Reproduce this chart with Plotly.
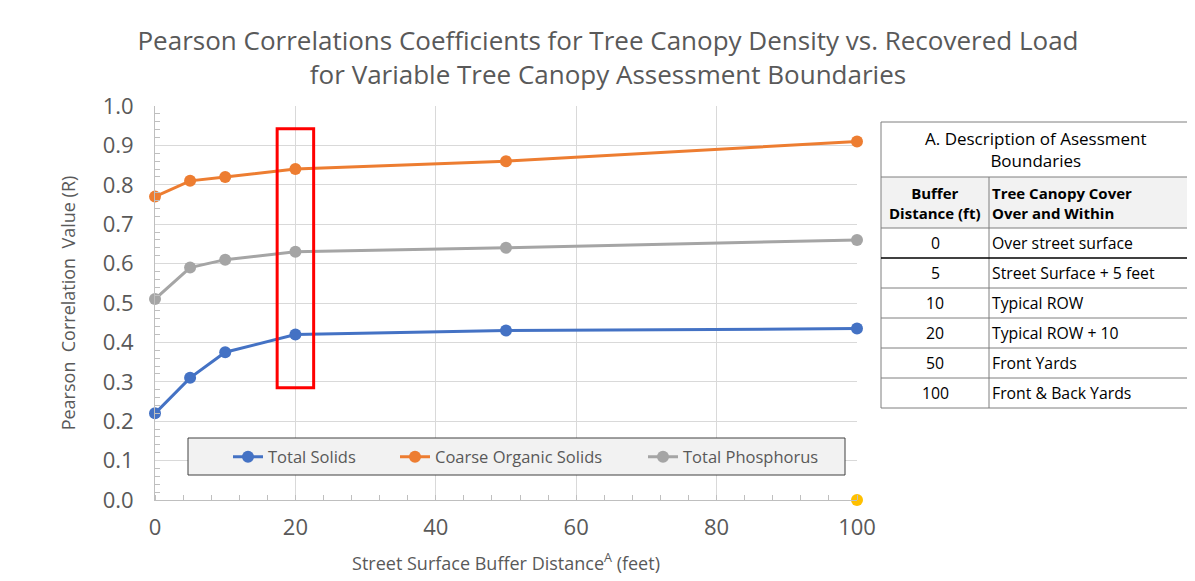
import plotly.graph_objects as go

distance_ft = [0, 5, 10, 20, 50, 100]
total_solids = [0.22, 0.31, 0.375, 0.42, 0.43, 0.435]
coarse_organic = [0.77, 0.81, 0.82, 0.84, 0.86, 0.91]
total_phosphorus = [0.51, 0.59, 0.61, 0.63, 0.64, 0.66]
extra_x = [100]
extra_y = [0.0]

highlight_x = [17.4, 22.6]
highlight_y = [0.285, 0.942]

table_title = "A. Description of Asessment<br>Boundaries"
table_head = ["<b>Buffer<br>Distance (ft)</b>", "<b>Tree Canopy Cover<br>Over and Within</b>"]
table_dist = ["0", "5", "10", "20", "50", "100"]
table_desc = ["Over street surface", "Street Surface + 5 feet", "Typical ROW",
              "Typical ROW + 10", "Front Yards", "Front & Back Yards"]

W, H = 1195, 581
OFF = 8  # page body offset
L, R, T, B = 155, 857, 106, 500  # plot area in page pixels
FONT = "Open Sans"
TXT = "#595959"

def px(x):
    return (x - L) / (R - L)

def py(y):
    return (B - y) / (B - T)

fig = go.Figure()
series = [("Total Solids", total_solids, "#4472C4", "legend", 228),
          ("Coarse Organic Solids", coarse_organic, "#ED7D31", "legend2", 395),
          ("Total Phosphorus", total_phosphorus, "#A5A5A5", "legend3", 643)]
for name, vals, col, lg, _ in series:
    fig.add_trace(go.Scatter(x=distance_ft, y=vals, name=name, mode="lines+markers",
                             line=dict(color=col, width=3), legend=lg,
                             marker=dict(color=col, size=12), cliponaxis=False))
fig.add_trace(go.Scatter(x=extra_x, y=extra_y, mode="markers", showlegend=False,
                         marker=dict(color="#FFC000", size=12), cliponaxis=False))

shapes = [dict(type="rect", xref="x", yref="y", x0=highlight_x[0], x1=highlight_x[1],
               y0=highlight_y[0], y1=highlight_y[1], line=dict(color="#FF0000", width=3))]
# legend box
shapes.append(dict(type="rect", xref="paper", yref="paper", x0=px(188), x1=px(845),
                   y0=py(475), y1=py(438), fillcolor="#f2f2f2", line=dict(color="#404040", width=1),
                   layer="above"))
ann = []

# table
tx0, tdiv, tx1 = 881, 989, 1190
rows_y = [122, 177, 228, 258, 288, 318, 348, 378, 408]
border = "#7f7f7f"
shapes.append(dict(type="rect", xref="paper", yref="paper", x0=px(tx0), x1=px(tx1),
                   y0=py(rows_y[1]), y1=py(rows_y[2]), fillcolor="#f2f2f2", line=dict(width=0), layer="below"))
shapes.append(dict(type="rect", xref="paper", yref="paper", x0=px(tx0), x1=px(tx1),
                   y0=py(rows_y[0]), y1=py(rows_y[-1]), line=dict(color=border, width=1)))
shapes.append(dict(type="line", xref="paper", yref="paper", x0=px(tdiv), x1=px(tdiv),
                   y0=py(rows_y[1]), y1=py(rows_y[-1]), line=dict(color=border, width=1)))
for yy in rows_y[1:-1]:
    shapes.append(dict(type="line", xref="paper", yref="paper", x0=px(tx0), x1=px(tx1),
                       y0=py(yy), y1=py(yy),
                       line=dict(color="#000000" if yy == 258 else border, width=1.5 if yy == 258 else 1)))
tf = dict(family=FONT, size=15, color="#000000")
bf = dict(family=FONT, size=15.8, color="#000000")
ann.append(dict(xref="paper", yref="paper", x=px((tx0 + tx1) / 2), y=py((rows_y[0] + rows_y[1]) / 2),
                text=table_title, showarrow=False, font=dict(family=FONT, size=17, color="#000000"),
                xanchor="center", yanchor="middle"))
ann.append(dict(xref="paper", yref="paper", x=px((tx0 + tdiv) / 2), y=py((rows_y[1] + rows_y[2]) / 2),
                text=table_head[0], showarrow=False, font=tf, xanchor="center", yanchor="middle"))
ann.append(dict(xref="paper", yref="paper", x=px(tdiv + 1), y=py((rows_y[1] + rows_y[2]) / 2),
                text=table_head[1], showarrow=False, font=tf, xanchor="left", yanchor="middle", align="left"))
for i, (d, desc) in enumerate(zip(table_dist, table_desc)):
    yc = py((rows_y[i + 2] + rows_y[i + 3]) / 2)
    ann.append(dict(xref="paper", yref="paper", x=px((tx0 + tdiv) / 2), y=yc, text=d,
                    showarrow=False, font=bf, xanchor="center", yanchor="middle"))
    ann.append(dict(xref="paper", yref="paper", x=px(tdiv + 1), y=yc, text=desc,
                    showarrow=False, font=bf, xanchor="left", yanchor="middle"))

leg_common = dict(orientation="h", yanchor="middle", y=py(457), xanchor="left",
                  bgcolor="rgba(0,0,0,0)", borderwidth=0, font=dict(size=16.5, color=TXT), itemwidth=30)

fig.update_layout(
    width=W, height=H,
    margin=dict(l=L - OFF, r=W - R + OFF, t=T - OFF, b=H - B + OFF),
    plot_bgcolor="white", paper_bgcolor="white",
    font=dict(family=FONT, color=TXT),
    title=dict(text="Pearson Correlations Coefficients for Tree Canopy Density vs. Recovered Load<br>for Variable Tree Canopy Assessment Boundaries",
               x=(608 - OFF) / W, xanchor="center", y=1 - (50 - OFF) / H, yanchor="middle",
               font=dict(size=26, color=TXT)),
    xaxis=dict(range=[0, 100], tickvals=[0, 20, 40, 60, 80, 100], showgrid=True, gridcolor="#d9d9d9",
               showline=True, linecolor="#bfbfbf", zeroline=False, ticks="", tickfont=dict(size=22, color=TXT),
               ticklabelstandoff=8,
               minor=dict(dtick=4, ticks="inside", ticklen=5, tickcolor="#bfbfbf", showgrid=False),
               title=dict(text="Street Surface Buffer Distance<sup>A</sup> (feet)", font=dict(size=18, color=TXT), standoff=16)),
    yaxis=dict(range=[0, 1], dtick=0.1, tickformat=".1f", showgrid=True, gridcolor="#d9d9d9",
               showline=True, linecolor="#bfbfbf", zeroline=False, ticks="", tickfont=dict(size=22, color=TXT),
               ticklabelstandoff=16,
               minor=dict(dtick=0.02, ticks="inside", ticklen=5, tickcolor="#bfbfbf", showgrid=False),
               title=dict(text="Pearson  Correlation  Value (R)", font=dict(size=18, color=TXT), standoff=22)),
    legend=dict(leg_common, x=px(series[0][4])),
    legend2=dict(leg_common, x=px(series[1][4])),
    legend3=dict(leg_common, x=px(series[2][4])),
    shapes=shapes, annotations=ann,
)
fig.write_html("out.html")
